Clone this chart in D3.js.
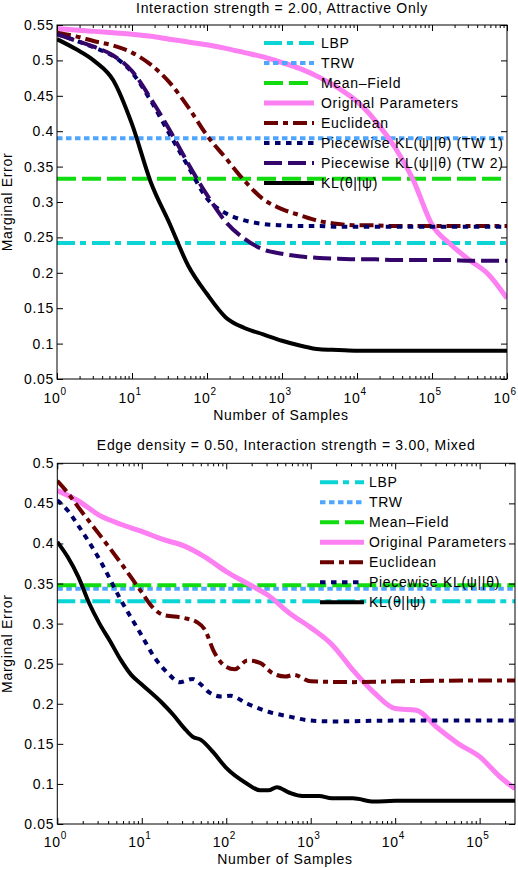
<!DOCTYPE html>
<html><head><meta charset="utf-8">
<script src="https://cdn.jsdelivr.net/npm/d3@7"></script>
<style>
html,body{margin:0;padding:0;background:#fff;}
svg{display:block;}
text{font-family:"Liberation Sans",Arial,Helvetica,sans-serif;font-size:14px;letter-spacing:0.7px;fill:#000;}
</style></head><body>
<svg id="c" width="518" height="870"></svg>
<script>
// ---------- text ----------
const topTitle = "Interaction strength = 2.00, Attractive Only";
const botTitle = "Edge density = 0.50, Interaction strength = 3.00, Mixed";
const xLabel = "Number of Samples";
const yLabel = "Marginal Error";
const topLegend = ["LBP","TRW","Mean\u2013Field","Original Parameters","Euclidean",
  "Piecewise KL(\u03c8||\u03b8) (TW 1)","Piecewise KL(\u03c8||\u03b8) (TW 2)","KL(\u03b8||\u03c8)"];
const botLegend = ["LBP","TRW","Mean\u2013Field","Original Parameters","Euclidean",
  "Piecewise KL(\u03c8||\u03b8)","KL(\u03b8||\u03c8)"];

// ---------- ticks ----------
const topYTicks = [0.05,0.1,0.15,0.2,0.25,0.3,0.35,0.4,0.45,0.5,0.55];
const botYTicks = [0.05,0.1,0.15,0.2,0.25,0.3,0.35,0.4,0.45,0.5];
const topXTicks = [1,10,100,1000,10000,100000,1000000];
const topXExp = ["0","1","2","3","4","5","6"];
const botXTicks = [1,10,100,1000,10000,100000];
const botXExp = ["0","1","2","3","4","5"];

// ---------- top chart data ----------
const topXMax = 1000000;
const topLBP = 0.242, topTRW = 0.390, topMF = 0.333;
const topN = [1,1.78,3.16,5.62,10,17.8,31.6,56.2,100,178,316,562,1000,1778,3162,5623,
  10000,17783,31623,56234,100000,177828,316228,562341,1000000];
const topOrig = [0.545,0.543,0.541,0.539,0.537,0.534,0.530,0.526,0.522,0.517,0.511,0.505,
  0.497,0.488,0.476,0.461,0.442,0.414,0.378,0.331,0.268,0.240,0.218,0.198,0.164];
const topEuc = [0.539,0.534,0.527,0.521,0.511,0.494,0.469,0.434,0.394,0.362,0.330,0.304,
  0.290,0.281,0.273,0.269,0.267,0.267,0.266,0.266,0.266,0.266,0.266,0.266,0.266];
const topTW1 = [0.537,0.528,0.518,0.506,0.483,0.443,0.396,0.350,0.305,0.284,0.274,0.269,
  0.267,0.266,0.266,0.265,0.265,0.265,0.265,0.265,0.265,0.265,0.265,0.265,0.265];
const topTW2 = [0.537,0.528,0.519,0.507,0.485,0.446,0.402,0.354,0.310,0.272,0.248,0.233,
  0.227,0.223,0.221,0.220,0.219,0.219,0.218,0.218,0.218,0.218,0.217,0.217,0.217];
const topKL = [0.530,0.516,0.499,0.472,0.410,0.328,0.270,0.210,0.170,0.137,0.122,0.113,
  0.104,0.097,0.092,0.091,0.090,0.090,0.090,0.090,0.090,0.090,0.090,0.090,0.090];

// ---------- bottom chart data ----------
const botXMax = 262144;
const botLBP = 0.328, botTRW = 0.3435, botMF = 0.348;
const botOrigN = [1,1.78,3.16,5.62,10,17.8,31.6,56.2,100,178,316,562,1000,1778,3162,5623,
  10000,17783,31623,56234,100000,177828,262144];
const botOrig = [0.466,0.453,0.435,0.424,0.415,0.405,0.397,0.383,0.365,0.350,0.335,0.313,
  0.295,0.274,0.242,0.214,0.194,0.192,0.170,0.150,0.134,0.108,0.094];
const botEucN = [1,1.33,1.78,3.16,5.62,10,13.3,17.8,31.6,44.7,56.2,70.8,100,126,178,251,
  355,501,631,1000,3162,10000,100000,262144];
const botEuc = [0.478,0.463,0.445,0.411,0.376,0.339,0.321,0.311,0.307,0.302,0.292,0.266,
  0.246,0.243,0.254,0.251,0.238,0.234,0.236,0.228,0.227,0.228,0.229,0.229];
const botPWN = [1,1.33,1.78,3.16,5.62,10,14.1,20,28.2,39.8,50.1,63.1,89.1,112,178,316,562,
  1000,1778,10000,262144];
const botPW = [0.454,0.441,0.422,0.380,0.330,0.285,0.258,0.239,0.227,0.231,0.224,0.214,
  0.209,0.210,0.200,0.190,0.184,0.179,0.178,0.179,0.179];
const botKLN = [1,1.33,1.78,2.37,3.16,4.22,5.62,7.5,10,17.8,23.7,31.6,39.8,50.1,70.8,100,
  178,251,316,398,562,794,1259,1778,3162,5623,10000,100000,262144];
const botKL = [0.402,0.383,0.358,0.326,0.300,0.278,0.255,0.236,0.224,0.200,0.186,0.170,
  0.159,0.155,0.139,0.120,0.100,0.092,0.092,0.096,0.089,0.085,0.085,0.082,0.082,0.078,
  0.079,0.079,0.079];

// ---------- styles ----------
const ST = {
  LBP:{color:"#0ad4d4", dash:"18,5,6,6", w:4},
  TRW:{color:"#4fa6ff", dash:"5.5,3.5", w:4},
  MF:{color:"#10dc10", dash:"19,6", w:4},
  Orig:{color:"#fc80f2", dash:null, w:5},
  Euc:{color:"#6b0000", dash:"14,5,5,5", w:4},
  TW1:{color:"#00006b", dash:"5.5,5.5", w:4},
  TW2:{color:"#34066b", dash:"18,6", w:4},
  KL:{color:"#000000", dash:null, w:4}
};

const svg = d3.select("#c");
let clipId = 0;

function zip(ns, vs){ return ns.map((n,i)=>[n, vs[i]]); }

function drawChart(cfg){
  const g = svg.append("g");
  const x = d3.scaleLog().domain([1, cfg.xMax]).range([cfg.left, cfg.right]);
  const y = d3.scaleLinear().domain([0.05, cfg.yTicks[cfg.yTicks.length-1]]).range([cfg.bottom, cfg.top]);
  const id = "clip" + (clipId++);
  g.append("clipPath").attr("id", id).append("rect")
    .attr("x", cfg.left).attr("y", cfg.top)
    .attr("width", cfg.right-cfg.left).attr("height", cfg.bottom-cfg.top);
  const plot = g.append("g").attr("clip-path", `url(#${id})`);
  const line = d3.line().x(d=>x(d[0])).y(d=>y(d[1])).curve(d3.curveMonotoneX);

  cfg.series.forEach(s=>{
    const st = ST[s.style];
    plot.append("path").datum(s.data).attr("d", line)
      .attr("fill","none").attr("stroke", st.color).attr("stroke-width", st.w)
      .attr("stroke-dasharray", st.dash).attr("stroke-linecap","butt")
      .attr("stroke-linejoin","round");
  });

  // minor ticks
  const minor = [];
  for (let e = 0; e < 7; e++) for (let k = 2; k <= 9; k++) {
    const v = k * Math.pow(10, e); if (v < cfg.xMax) minor.push(v);
  }
  const axB = g.append("g").attr("transform", `translate(0,${cfg.bottom})`)
    .call(d3.axisBottom(x).tickValues(minor).tickSize(-3).tickFormat(""));
  const axB2 = g.append("g").attr("transform", `translate(0,${cfg.bottom})`)
    .call(d3.axisBottom(x).tickValues(cfg.xTicks).tickSize(-6).tickFormat(""));
  const axT = g.append("g").attr("transform", `translate(0,${cfg.top})`)
    .call(d3.axisTop(x).tickValues(minor).tickSize(-3).tickFormat(""));
  const axT2 = g.append("g").attr("transform", `translate(0,${cfg.top})`)
    .call(d3.axisTop(x).tickValues(cfg.xTicks).tickSize(-6).tickFormat(""));
  const axL = g.append("g").attr("transform", `translate(${cfg.left},0)`)
    .call(d3.axisLeft(y).tickValues(cfg.yTicks).tickSize(-6).tickFormat(""));
  const axR = g.append("g").attr("transform", `translate(${cfg.right},0)`)
    .call(d3.axisRight(y).tickValues(cfg.yTicks).tickSize(-6).tickFormat(""));
  [axB,axB2,axT,axT2,axL,axR].forEach(a=>{
    a.select(".domain").remove();
    a.selectAll(".tick line").attr("stroke","#000").attr("stroke-width",1);
  });
  g.append("rect").attr("x", cfg.left).attr("y", cfg.top)
    .attr("width", cfg.right-cfg.left).attr("height", cfg.bottom-cfg.top)
    .attr("fill","none").attr("stroke","#000").attr("stroke-width",1);

  // y tick labels
  g.selectAll(".ylab").data(cfg.yTicks).enter().append("text")
    .attr("x", cfg.left - 3).attr("y", d=>y(d)).attr("dy","0.36em")
    .attr("text-anchor","end").text(d=>String(+d.toFixed(2)));
  // x tick labels
  cfg.xTicks.forEach((v,i)=>{
    g.append("text").attr("x", x(v)+3.5).attr("y", cfg.xBase).attr("text-anchor","end").text("10");
    g.append("text").attr("x", x(v)+3.5).attr("y", cfg.xBase-8)
      .style("font-size","10px").style("letter-spacing","0.5px").text(cfg.xExp[i]);
  });
  // titles
  g.append("text").attr("x", (cfg.left+cfg.right)/2).attr("y", cfg.titleY)
    .attr("text-anchor","middle").text(cfg.title);
  g.append("text").attr("x", cfg.xLabelX).attr("y", cfg.xLabelY)
    .attr("text-anchor","middle").text(xLabel);
  g.append("text").attr("transform", `translate(12,${(cfg.top+cfg.bottom)/2}) rotate(-90)`)
    .attr("text-anchor","middle").text(yLabel);

  // legend
  const lg = g.append("g");
  cfg.legend.forEach((name,i)=>{
    const st = ST[cfg.legendStyles[i]];
    const yy = cfg.legY + i*20;
    lg.append("line").attr("x1", cfg.legX1).attr("x2", cfg.legX2)
      .attr("y1", yy).attr("y2", yy)
      .attr("stroke", st.color).attr("stroke-width", st.w)
      .attr("stroke-dasharray", st.dash);
    lg.append("text").attr("x", cfg.legTX).attr("y", yy).attr("dy","0.36em").text(name);
  });
}

drawChart({
  left:57, right:507, top:25, bottom:379, xMax: topXMax,
  yTicks: topYTicks, xTicks: topXTicks, xExp: topXExp,
  xBase: 403, titleY: 13, title: topTitle, xLabelX: 281, xLabelY: 420,
  series: [
    {style:"LBP", data:[[1,topLBP],[topXMax,topLBP]]},
    {style:"TRW", data:[[1,topTRW],[topXMax,topTRW]]},
    {style:"MF", data:[[1,topMF],[topXMax,topMF]]},
    {style:"Orig", data: zip(topN, topOrig)},
    {style:"Euc", data: zip(topN, topEuc)},
    {style:"TW1", data: zip(topN, topTW1)},
    {style:"TW2", data: zip(topN, topTW2)},
    {style:"KL", data: zip(topN, topKL)}
  ],
  legend: topLegend, legendStyles:["LBP","TRW","MF","Orig","Euc","TW1","TW2","KL"],
  legX1:264, legX2:314, legTX:321, legY:43
});

drawChart({
  left:57.3, right:515, top:463.3, bottom:824, xMax: botXMax,
  yTicks: botYTicks, xTicks: botXTicks, xExp: botXExp,
  xBase: 847, titleY: 450, title: botTitle, xLabelX: 285, xLabelY: 864,
  series: [
    {style:"LBP", data:[[1,botLBP],[botXMax,botLBP]]},
    {style:"TRW", data:[[1,botTRW],[botXMax,botTRW]]},
    {style:"MF", data:[[1,botMF],[botXMax,botMF]]},
    {style:"Orig", data: zip(botOrigN, botOrig)},
    {style:"Euc", data: zip(botEucN, botEuc)},
    {style:"TW1", data: zip(botPWN, botPW)},
    {style:"KL", data: zip(botKLN, botKL)}
  ],
  legend: botLegend, legendStyles:["LBP","TRW","MF","Orig","Euc","TW1","KL"],
  legX1:320, legX2:364, legTX:369, legY:482.3
});
</script>
</body></html>
